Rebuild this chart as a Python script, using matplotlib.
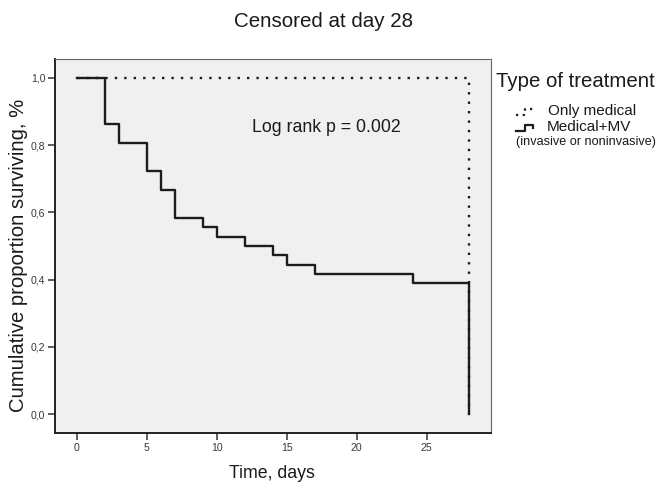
import matplotlib
matplotlib.use("Agg")
import matplotlib.pyplot as plt
from matplotlib.lines import Line2D

plt.rcParams['font.family'] = ['Liberation Sans', 'DejaVu Sans']

# Kaplan-Meier estimates
mv_days = [0, 2, 3, 5, 6, 7, 9, 10, 12, 14, 15, 17, 24, 28]
mv_surv = [1.0, 0.861, 0.806, 0.722, 0.667, 0.583, 0.556, 0.528, 0.500,
           0.472, 0.444, 0.417, 0.389, 0.0]
med_days = [0, 28]
med_surv = [1.0, 0.0]

x_ticks = [0, 5, 10, 15, 20, 25]
y_ticks = [0.0, 0.2, 0.4, 0.6, 0.8, 1.0]
y_labels = ['0,0', '0,2', '0,4', '0,6', '0,8', '1,0']

W, H = 671, 486
fig = plt.figure(figsize=(W / 100, H / 100), dpi=100)


def px(x, y):
    # pixel position (from top-left) -> figure fraction
    return x / W, 1 - y / H


ax = fig.add_axes([55 / W, 1 - 433 / H, (491 - 55) / W, (433 - 59) / H])
ax.set_facecolor('#f0f0f0')

ax.step(mv_days, mv_surv, where='post', color='#1c1c1c', lw=1.7, zorder=3)
ax.step(med_days, med_surv, where='post', color='#1c1c1c', lw=1.7,
        linestyle=(0, (1, 3.0)), zorder=4)

ax.set_xlim(-1.55, 29.6)
ax.set_ylim(-0.0556, 1.0556)
ax.set_xticks(x_ticks)
ax.set_yticks(y_ticks)
ax.set_yticklabels(y_labels)
ax.tick_params(axis='both', direction='out', length=5, width=1.1,
               color='#333333', labelsize=7.6, labelcolor='#3a3a3a', pad=2)

for side in ['left', 'bottom']:
    ax.spines[side].set_color('#222222')
    ax.spines[side].set_linewidth(1.4)
for side in ['top', 'right']:
    ax.spines[side].set_color('#666666')
    ax.spines[side].set_linewidth(0.8)

ax.text(12.5, 0.839, 'Log rank p = 0.002', fontsize=12.8, color='#1a1a1a',
        va='baseline', ha='left')

# titles and axis labels
fig.text(*px(323, 27), 'Censored at day 28', fontsize=14.8, color='#1a1a1a',
         ha='center', va='baseline')
fig.text(*px(272, 478), 'Time, days', fontsize=12.8, color='#1a1a1a',
         ha='center', va='baseline')
fig.text(*px(19, 255), 'Cumulative proportion surviving, %', fontsize=14.6,
         color='#1a1a1a', rotation=90, ha='center', va='center')

# legend drawn by hand, SPSS style
fig.text(*px(496, 87), 'Type of treatment', fontsize=14.7, color='#1a1a1a',
         ha='left', va='baseline')
fig.text(*px(548, 111), 'Only medical', fontsize=11, color='#1a1a1a',
         ha='left', va='center')
fig.text(*px(547, 127), 'Medical+MV', fontsize=11, color='#1a1a1a',
         ha='left', va='center')
fig.text(*px(516, 142), '(invasive or noninvasive)', fontsize=9.1,
         color='#1a1a1a', ha='left', va='center')

icon_x = [516, 525, 525, 533, 533]
icon_y = [6, 6, 0, 0, 3]
for y0, style in [(109, (0, (1, 2))), (125, '-')]:
    pts = [px(x, y0 + dy) for x, dy in zip(icon_x, icon_y)]
    fig.add_artist(Line2D([p[0] for p in pts], [p[1] for p in pts],
                          color='#1c1c1c', lw=1.6, linestyle=style))

fig.savefig('out.png', dpi=100)
